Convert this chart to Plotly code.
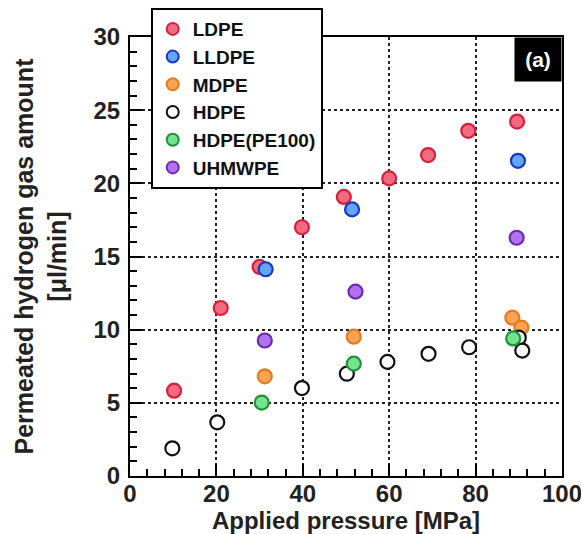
import plotly.graph_objects as go

# ---- data ----
ldpe_x = [10.2, 21.0, 30.0, 39.8, 49.5, 60.0, 69.0, 78.3, 89.6]
ldpe_y = [5.83, 11.48, 14.29, 17.0, 19.07, 20.34, 21.93, 23.59, 24.22]

lldpe_x = [31.4, 51.4, 89.8]
lldpe_y = [14.13, 18.22, 21.54]

mdpe_x = [31.2, 51.8, 88.5, 90.6]
mdpe_y = [6.81, 9.52, 10.82, 10.14]

hdpe_x = [9.8, 20.2, 39.8, 50.2, 59.6, 69.1, 78.5, 90.0, 90.8]
hdpe_y = [1.89, 3.67, 6.01, 6.99, 7.80, 8.35, 8.80, 9.45, 8.57]

pe100_x = [30.5, 51.8, 88.7]
pe100_y = [5.02, 7.68, 9.40]

uhmwpe_x = [31.2, 52.2, 89.5]
uhmwpe_y = [9.26, 12.60, 16.28]

series = [
    ("LDPE", ldpe_x, ldpe_y, "#f06a82", "#d8203c"),
    ("LLDPE", lldpe_x, lldpe_y, "#62a6f6", "#1a36c8"),
    ("MDPE", mdpe_x, mdpe_y, "#f8a452", "#e87a22"),
    ("HDPE", hdpe_x, hdpe_y, "#ffffff", "#111111"),
    ("HDPE(PE100)", pe100_x, pe100_y, "#72e48e", "#22903a"),
    ("UHMWPE", uhmwpe_x, uhmwpe_y, "#b272ee", "#7028b0"),
]

FONT = "Liberation Sans, Arial, sans-serif"

fig = go.Figure()
for name, xs, ys, fill, edge in series:
    fig.add_trace(go.Scatter(
        x=xs, y=ys, mode="markers", name=name,
        marker=dict(size=14, color=fill, line=dict(color=edge, width=2.2)),
    ))

axis_common = dict(
    showline=True, linecolor="black", linewidth=2, mirror=True,
    ticks="inside", ticklen=12, tickwidth=2, tickcolor="black",
    showgrid=True, gridcolor="#222222", gridwidth=1.6, griddash="dot",
    zeroline=False,
    tickfont=dict(family=FONT, size=24, color="#222222", weight="bold"),
)

fig.update_xaxes(
    range=[0, 100], tickmode="linear", tick0=0, dtick=20,
    minor=dict(dtick=4, ticks="inside", ticklen=7, tickwidth=2, tickcolor="black", showgrid=False),
    ticklabelstandoff=-5, ticklabeloverflow="allow",
    title=dict(text="Applied pressure [MPa]", standoff=3,
               font=dict(family=FONT, size=24, color="#222222", weight="bold")),
    **axis_common,
)
fig.update_yaxes(
    range=[0, 30], tickmode="linear", tick0=0, dtick=5,
    minor=dict(dtick=1, ticks="inside", ticklen=7, tickwidth=2, tickcolor="black", showgrid=False),
    ticklabelstandoff=3,
    title=dict(text="Permeated hydrogen gas amount<br>[μl/min]", standoff=20,
               font=dict(family=FONT, size=25, color="#222222", weight="bold")),
    **axis_common,
)

fig.add_annotation(
    text="(a)", xref="paper", yref="paper", x=1, y=1,
    xanchor="right", yanchor="top", showarrow=False,
    bgcolor="black", width=44, height=41,
    font=dict(family=FONT, size=21, color="white", weight="bold"),
)

fig.update_layout(
    width=581, height=534,
    margin=dict(l=130, r=19, t=37, b=58, autoexpand=False),
    paper_bgcolor="white", plot_bgcolor="white",
    showlegend=True,
    legend=dict(
        x=0.048, y=1.066, xanchor="left", yanchor="top",
        bgcolor="white", bordercolor="black", borderwidth=2,
        font=dict(family=FONT, size=19, color="#111111", weight="bold"),
        tracegroupgap=0, itemsizing="constant",
    ),
)

fig.write_html("out.html")
